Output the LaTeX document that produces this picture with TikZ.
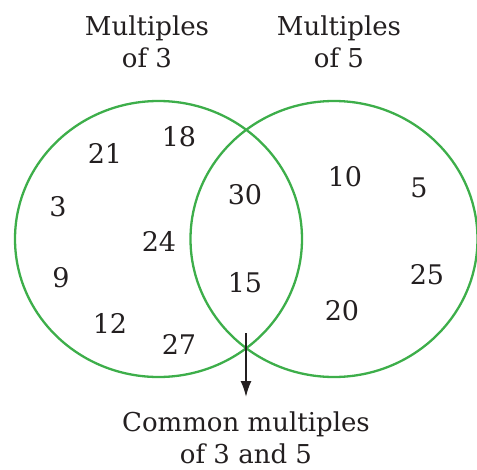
\documentclass[tikz,border=0pt]{standalone}
\usepackage{fontspec}
\setmainfont{DejaVu Serif}
\usepackage{xcolor}
\usepackage{tikz}
\usetikzlibrary{arrows.meta,shapes.geometric}
\definecolor{vennGreen}{HTML}{3DAE4A}
\definecolor{inkBlack}{HTML}{231F20}
\tikzset{
  setring/.style={ellipse, draw=vennGreen, line width=2.3pt, minimum width=287pt, minimum height=276pt, inner sep=0pt},
  numlabel/.style={text=inkBlack, font=\fontsize{27}{32}\selectfont, inner sep=0pt},
  setlabel/.style={text=inkBlack, font=\fontsize{26}{32}\selectfont, align=center, inner sep=0pt},
  pointarrow/.style={-{Latex[length=16pt,width=11pt]}, line width=1.8pt, draw=inkBlack},
}
\begin{document}
\begin{tikzpicture}[x=1pt,y=-1pt]
  \useasboundingbox (0,0) rectangle (477,469);
  % --- the two sets ---
  \node[setring] (setthree) at (158.5,239) {};
  \node[setring] (setfive) at (334,239) {};
  \node[setlabel, anchor=north] (titlethree) at (147,16) {Multiples\\of 3};
  \node[setlabel, anchor=north] (titlefive) at (339,16) {Multiples\\of 5};
  % --- multiples of 3 only ---
  \node[numlabel] (nTwentyOne) at (105,153) {21};
  \node[numlabel] (nEighteen) at (179,137) {18};
  \node[numlabel] (nThree) at (58,207) {3};
  \node[numlabel] (nTwentyFour) at (159,241) {24};
  \node[numlabel] (nNine) at (61,278) {9};
  \node[numlabel] (nTwelve) at (110,323) {12};
  \node[numlabel] (nTwentySeven) at (179,344) {27};
  % --- common part ---
  \node[numlabel] (nThirty) at (245,195) {30};
  \node[numlabel] (nFifteen) at (245,283) {15};
  % --- multiples of 5 only ---
  \node[numlabel] (nTen) at (345,177) {10};
  \node[numlabel] (nFive) at (419,188) {5};
  \node[numlabel] (nTwentyFive) at (427,275) {25};
  \node[numlabel] (nTwenty) at (342,311) {20};
  % --- pointer to the common part ---
  \coordinate (arrowtop) at (246,333);
  \node[setlabel, anchor=north] (common) at (246,412) {Common multiples\\of 3 and 5};
  \draw[pointarrow, shorten >=15pt] (arrowtop) -- (common.north);
\end{tikzpicture}
\end{document}
